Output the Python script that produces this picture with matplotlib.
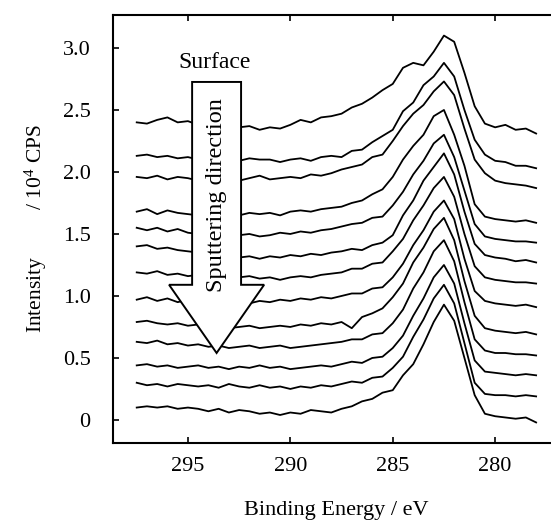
import matplotlib
matplotlib.use("Agg")
import matplotlib.pyplot as plt
from matplotlib.patches import FancyArrow

# Eixo de energia de ligação (eV)
energia = [297.5, 297.0, 296.5, 296.0, 295.5, 295.0, 294.5, 294.0, 293.5, 293.0,
           292.5, 292.0, 291.5, 291.0, 290.5, 290.0, 289.5, 289.0, 288.5, 288.0,
           287.5, 287.0, 286.5, 286.0, 285.5, 285.0, 284.5, 284.0, 283.5, 283.0,
           282.5, 282.0, 281.5, 281.0, 280.5, 280.0, 279.5, 279.0, 278.5, 278.0]

# Espectros C 1s empilhados (10^4 CPS), da superficie para o interior
espectro_01 = [2.40, 2.39, 2.42, 2.44, 2.40, 2.41, 2.38, 2.39, 2.38, 2.37, 2.36, 2.37, 2.34, 2.36, 2.35, 2.38, 2.42, 2.40, 2.44, 2.45,
               2.47, 2.52, 2.55, 2.60, 2.66, 2.71, 2.84, 2.88, 2.86, 2.97, 3.10, 3.05, 2.80, 2.53, 2.39, 2.36, 2.38, 2.34, 2.35, 2.31]
espectro_02 = [2.13, 2.14, 2.12, 2.13, 2.11, 2.12, 2.10, 2.11, 2.12, 2.10, 2.09, 2.11, 2.10, 2.10, 2.08, 2.10, 2.11, 2.09, 2.12, 2.13,
               2.12, 2.17, 2.18, 2.24, 2.29, 2.34, 2.49, 2.56, 2.70, 2.77, 2.88, 2.77, 2.50, 2.26, 2.14, 2.09, 2.08, 2.05, 2.05, 2.03]
espectro_03 = [1.96, 1.95, 1.97, 1.94, 1.96, 1.95, 1.93, 1.95, 1.94, 1.96, 1.93, 1.95, 1.97, 1.94, 1.95, 1.96, 1.95, 1.98, 1.97, 1.99,
               2.02, 2.04, 2.06, 2.12, 2.14, 2.25, 2.37, 2.47, 2.54, 2.65, 2.73, 2.62, 2.35, 2.10, 1.99, 1.93, 1.91, 1.90, 1.89, 1.87]
espectro_04 = [1.68, 1.70, 1.66, 1.69, 1.67, 1.66, 1.65, 1.67, 1.66, 1.64, 1.65, 1.67, 1.66, 1.67, 1.65, 1.68, 1.69, 1.68, 1.70, 1.71,
               1.72, 1.75, 1.77, 1.82, 1.86, 1.96, 2.10, 2.21, 2.30, 2.45, 2.50, 2.30, 2.05, 1.74, 1.64, 1.62, 1.61, 1.60, 1.61, 1.59]
espectro_05 = [1.55, 1.53, 1.55, 1.52, 1.54, 1.51, 1.50, 1.49, 1.50, 1.48, 1.49, 1.50, 1.48, 1.49, 1.51, 1.50, 1.52, 1.51, 1.53, 1.54,
               1.56, 1.58, 1.59, 1.63, 1.64, 1.73, 1.84, 1.98, 2.09, 2.23, 2.30, 2.12, 1.85, 1.58, 1.48, 1.46, 1.45, 1.44, 1.44, 1.43]
espectro_06 = [1.40, 1.41, 1.38, 1.39, 1.37, 1.36, 1.35, 1.33, 1.32, 1.34, 1.31, 1.32, 1.30, 1.32, 1.31, 1.33, 1.32, 1.34, 1.33, 1.35,
               1.36, 1.38, 1.37, 1.41, 1.43, 1.49, 1.65, 1.77, 1.93, 2.04, 2.15, 1.98, 1.68, 1.42, 1.33, 1.31, 1.30, 1.28, 1.29, 1.27]
espectro_07 = [1.19, 1.18, 1.20, 1.17, 1.18, 1.16, 1.17, 1.15, 1.16, 1.14, 1.15, 1.16, 1.14, 1.15, 1.13, 1.15, 1.16, 1.15, 1.17, 1.18,
               1.19, 1.22, 1.22, 1.26, 1.27, 1.36, 1.46, 1.61, 1.73, 1.87, 1.96, 1.80, 1.50, 1.24, 1.15, 1.13, 1.12, 1.11, 1.11, 1.10]
espectro_08 = [0.97, 0.99, 0.96, 0.98, 0.95, 0.97, 0.96, 0.98, 0.95, 0.97, 0.96, 0.94, 0.96, 0.95, 0.97, 0.96, 0.98, 0.97, 0.99, 0.98,
               1.00, 1.02, 1.02, 1.06, 1.07, 1.15, 1.26, 1.41, 1.53, 1.68, 1.77, 1.62, 1.30, 1.04, 0.96, 0.94, 0.93, 0.92, 0.93, 0.91]
espectro_09 = [0.79, 0.80, 0.78, 0.77, 0.78, 0.76, 0.77, 0.75, 0.76, 0.74, 0.75, 0.76, 0.74, 0.75, 0.76, 0.75, 0.77, 0.76, 0.78, 0.77,
               0.79, 0.74, 0.83, 0.86, 0.90, 0.99, 1.10, 1.27, 1.39, 1.54, 1.63, 1.45, 1.12, 0.84, 0.74, 0.72, 0.71, 0.70, 0.71, 0.69]
espectro_10 = [0.63, 0.62, 0.64, 0.61, 0.62, 0.60, 0.61, 0.59, 0.60, 0.58, 0.59, 0.60, 0.58, 0.59, 0.60, 0.58, 0.59, 0.60, 0.61, 0.62,
               0.63, 0.65, 0.65, 0.69, 0.70, 0.78, 0.89, 1.06, 1.19, 1.36, 1.45, 1.28, 0.95, 0.65, 0.56, 0.54, 0.54, 0.53, 0.53, 0.52]
espectro_11 = [0.44, 0.45, 0.43, 0.44, 0.42, 0.43, 0.44, 0.42, 0.43, 0.41, 0.43, 0.42, 0.44, 0.42, 0.43, 0.41, 0.42, 0.43, 0.44, 0.43,
               0.45, 0.47, 0.46, 0.50, 0.51, 0.58, 0.68, 0.84, 0.98, 1.15, 1.25, 1.10, 0.78, 0.48, 0.39, 0.38, 0.37, 0.36, 0.37, 0.36]
espectro_12 = [0.30, 0.28, 0.29, 0.27, 0.29, 0.28, 0.27, 0.28, 0.26, 0.29, 0.27, 0.26, 0.28, 0.26, 0.27, 0.25, 0.27, 0.26, 0.28, 0.27,
               0.29, 0.31, 0.30, 0.34, 0.35, 0.42, 0.51, 0.67, 0.81, 0.98, 1.09, 0.94, 0.62, 0.30, 0.21, 0.20, 0.20, 0.19, 0.20, 0.19]
espectro_13 = [0.10, 0.11, 0.10, 0.11, 0.09, 0.10, 0.09, 0.07, 0.09, 0.06, 0.08, 0.07, 0.05, 0.06, 0.04, 0.06, 0.05, 0.08, 0.07, 0.06,
               0.09, 0.11, 0.15, 0.17, 0.22, 0.24, 0.36, 0.45, 0.61, 0.79, 0.93, 0.80, 0.50, 0.20, 0.05, 0.03, 0.02, 0.01, 0.02, -0.02]

espectros = [espectro_01, espectro_02, espectro_03, espectro_04, espectro_05, espectro_06, espectro_07,
             espectro_08, espectro_09, espectro_10, espectro_11, espectro_12, espectro_13]

ticks_x = [295, 290, 285, 280]
ticks_y = [0, 0.5, 1.0, 1.5, 2.0, 2.5, 3.0]
rotulos_y = ["0", "0.5", "1.0", "1.5", "2.0", "2.5", "3.0"]

# Fonte tipo Times
plt.rcParams['font.family'] = ['Liberation Serif', 'DejaVu Serif']
plt.rcParams['mathtext.fontset'] = 'custom'
plt.rcParams['mathtext.rm'] = 'Liberation Serif'
plt.rcParams['mathtext.it'] = 'Liberation Serif:italic'

fig = plt.figure(figsize=(5.51, 5.26), dpi=100)
ax = fig.add_axes([0.205, 0.158, 0.810, 0.8135])

# Desenhar espectros
for espectro in espectros:
    ax.plot(energia, espectro, color='black', lw=1.3, zorder=2)

# Seta de sputtering (branca por cima das curvas)
seta = FancyArrow(293.6, 2.726, 0, -2.186, width=2.39, head_width=4.64, head_length=0.55,
                  length_includes_head=True, facecolor='white', edgecolor='black', lw=1.4, zorder=3)
ax.add_patch(seta)
ax.text(293.6, 1.81, "Sputtering direction", rotation=90, ha='center', va='center', fontsize=17.5, zorder=4)
ax.text(293.7, 2.88, "Surface", ha='center', va='center', fontsize=17, zorder=4)

# Eixos
ax.set_xlim(298.66, 276.87)
ax.set_ylim(-0.185, 3.266)
ax.set_xticks(ticks_x)
ax.set_yticks(ticks_y)
ax.set_yticklabels(rotulos_y)
ax.tick_params(direction='in', length=4, width=1.2, labelsize=16, top=True)
ax.tick_params(axis='y', pad=16)
ax.tick_params(axis='x', pad=10)
for lado in ['left', 'bottom', 'top', 'right']:
    ax.spines[lado].set_linewidth(1.5)

ax.set_xlabel("Binding Energy / eV", fontsize=16, labelpad=18)
ax.set_ylabel("Intensity         / 10$^4$ CPS", fontsize=15.5, labelpad=10)

fig.savefig("out.png", dpi=100)
